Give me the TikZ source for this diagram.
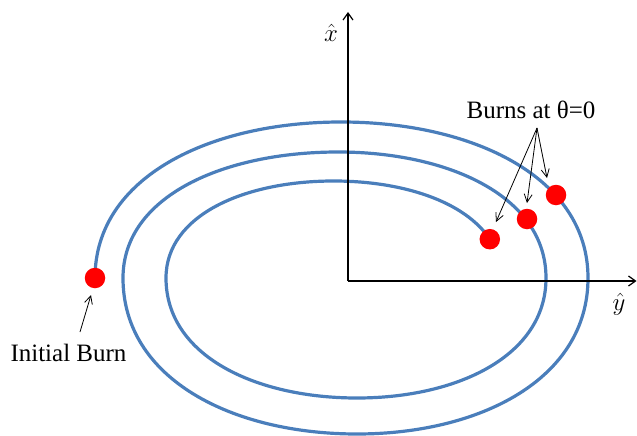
\documentclass[tikz,border=0pt]{standalone}
\usepackage{fontspec}
\setmainfont{Liberation Serif}
\usetikzlibrary{arrows.meta}
\definecolor{orbit}{RGB}{74,126,187}
\begin{document}
\begin{tikzpicture}[x=1pt,y=-1pt,
  orbitline/.style={draw=orbit,line width=3.2pt},
  axisline/.style={draw=black,line width=1.4pt,-{Straight Barb[length=7pt,width=10pt,line width=1.2pt]}},
  note/.style={draw=black,line width=0.8pt,-{Straight Barb[length=8pt,width=8pt]}},
  burn/.style={circle,fill=red,draw=none,inner sep=0pt,minimum size=20.5pt},
  lbl/.style={font=\fontsize{25}{29}\selectfont},
  axlbl/.style={font=\fontsize{31}{35}\selectfont}]
\useasboundingbox (0,0) rectangle (637,436);
% key points
\coordinate (p0) at (95,278);
\coordinate (pe) at (489.8,239.2);
\coordinate (O) at (348,281);
\coordinate (xtip) at (348,12);
\coordinate (ytip) at (636.5,281);
% spiral orbit
\draw[orbitline] (p0) .. controls (95,176.6) and (210.6,122) .. (341,122)
 .. controls (471.9,122) and (588,176.6) .. (588,278)
 .. controls (588,379.4) and (479.4,434) .. (357,434)
 .. controls (233.0,434) and (123,379.4) .. (123,278)
 .. controls (123,196.1) and (224.05,152) .. (338,152)
 .. controls (448.2,152) and (546,196.1) .. (546,278)
 .. controls (546,356) and (457.2,398) .. (357,398)
 .. controls (255.8,398) and (166,356) .. (166,278)
 .. controls (166,214.95) and (244.8,181) .. (333.7,181)
 .. controls (402.2,181) and (464.6,201.1) .. (pe);
% axes
\draw[axisline] (O) -- (xtip);
\draw[axisline] (O) -- (ytip);
\node[axlbl, anchor=base] (xlbl) at (331,42) {$\hat{x}$};
\node[axlbl, anchor=base] (ylbl) at (619,310) {$\hat{y}$};
% burns
\node[burn] (b0) at (p0) {};
\node[burn] (b1) at (pe) {};
\node[burn] (b2) at (527,219) {};
\node[burn] (b3) at (556,195) {};
% labels
\node[lbl, anchor=base] (burnslbl) at (531,118) {Burns at θ=0};
\coordinate (fan) at (537,128);
\coordinate (t1) at (496,222);
\coordinate (t2) at (527,203);
\coordinate (t3) at (547,178);
\draw[note] (fan) -- (t1);
\draw[note] (fan) -- (t2);
\draw[note] (fan) -- (t3);
\node[lbl, anchor=base] (initlbl) at (68.5,361) {Initial Burn};
\coordinate (ia) at (80,332);
\coordinate (ib) at (91,295);
\draw[note] (ia) -- (ib);
\end{tikzpicture}
\end{document}
